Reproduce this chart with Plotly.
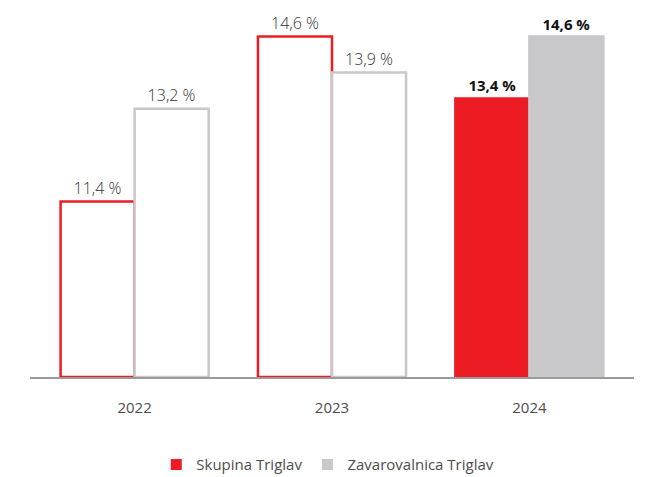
import plotly.graph_objects as go

years = ["2022", "2023", "2024"]
skupina = [11.4, 14.6, 13.4]
zavarovalnica = [13.2, 13.9, 14.6]
y_base = 8

RED = "#ED1C24"
GRAY = "#C8C8CA"
TEXT = "#4d4d4d"


def fmt(v):
    return f"{v:.1f}".replace(".", ",") + " %"


def make_labels(values):
    # last year is highlighted in bold
    out = []
    for i, v in enumerate(values):
        out.append(f"<b>{fmt(v)}</b>" if i == len(values) - 1 else fmt(v))
    return out


def make_bar(values, color):
    n = len(values)
    fills = ["white"] * (n - 1) + [color]
    text_colors = ["#333333"] * (n - 1) + ["#111111"]
    text_sizes = [16] * (n - 1) + [15]
    return go.Bar(
        x=years,
        y=[v - y_base for v in values],
        base=y_base,
        text=make_labels(values),
        textposition="outside",
        cliponaxis=False,
        showlegend=False,
        hoverinfo="skip",
        textfont=dict(size=text_sizes, color=text_colors, family="Open Sans", weight=300),
        marker=dict(color=fills, line=dict(color=color, width=2.5)),
    )


def legend_proxy(name, color):
    return go.Scatter(
        x=[None], y=[None], mode="markers", name=name,
        marker=dict(symbol="square", size=11, color=color),
    )


fig = go.Figure()
fig.add_trace(make_bar(skupina, RED))
fig.add_trace(make_bar(zavarovalnica, GRAY))
fig.add_trace(legend_proxy("Skupina Triglav", RED))
fig.add_trace(legend_proxy("Zavarovalnica Triglav", GRAY))

# page body has an 8px margin, so the figure is sized/shifted for it
fig.update_layout(
    width=638,
    height=469,
    barmode="group",
    bargap=0.25,
    bargroupgap=0,
    paper_bgcolor="white",
    plot_bgcolor="white",
    margin=dict(l=22, r=12, t=12, b=100),
    font=dict(family="Open Sans", size=15, color=TEXT),
    xaxis=dict(
        range=[-0.53, 2.53],
        showline=True,
        linecolor="#9a9a9a",
        linewidth=2,
        ticks="",
        showgrid=False,
        automargin=False,
        tickfont=dict(size=15, color=TEXT),
        ticklabelstandoff=16,
    ),
    yaxis=dict(
        range=[y_base, 14.92],
        visible=False,
        showgrid=False,
        zeroline=False,
    ),
    legend=dict(
        orientation="h",
        xref="paper",
        xanchor="center",
        x=0.493,
        yref="container",
        yanchor="middle",
        y=0.026,
        font=dict(size=15, color=TEXT),
        itemwidth=30,
        tracegroupgap=0,
    ),
    showlegend=True,
)

fig.write_html("out.html")
